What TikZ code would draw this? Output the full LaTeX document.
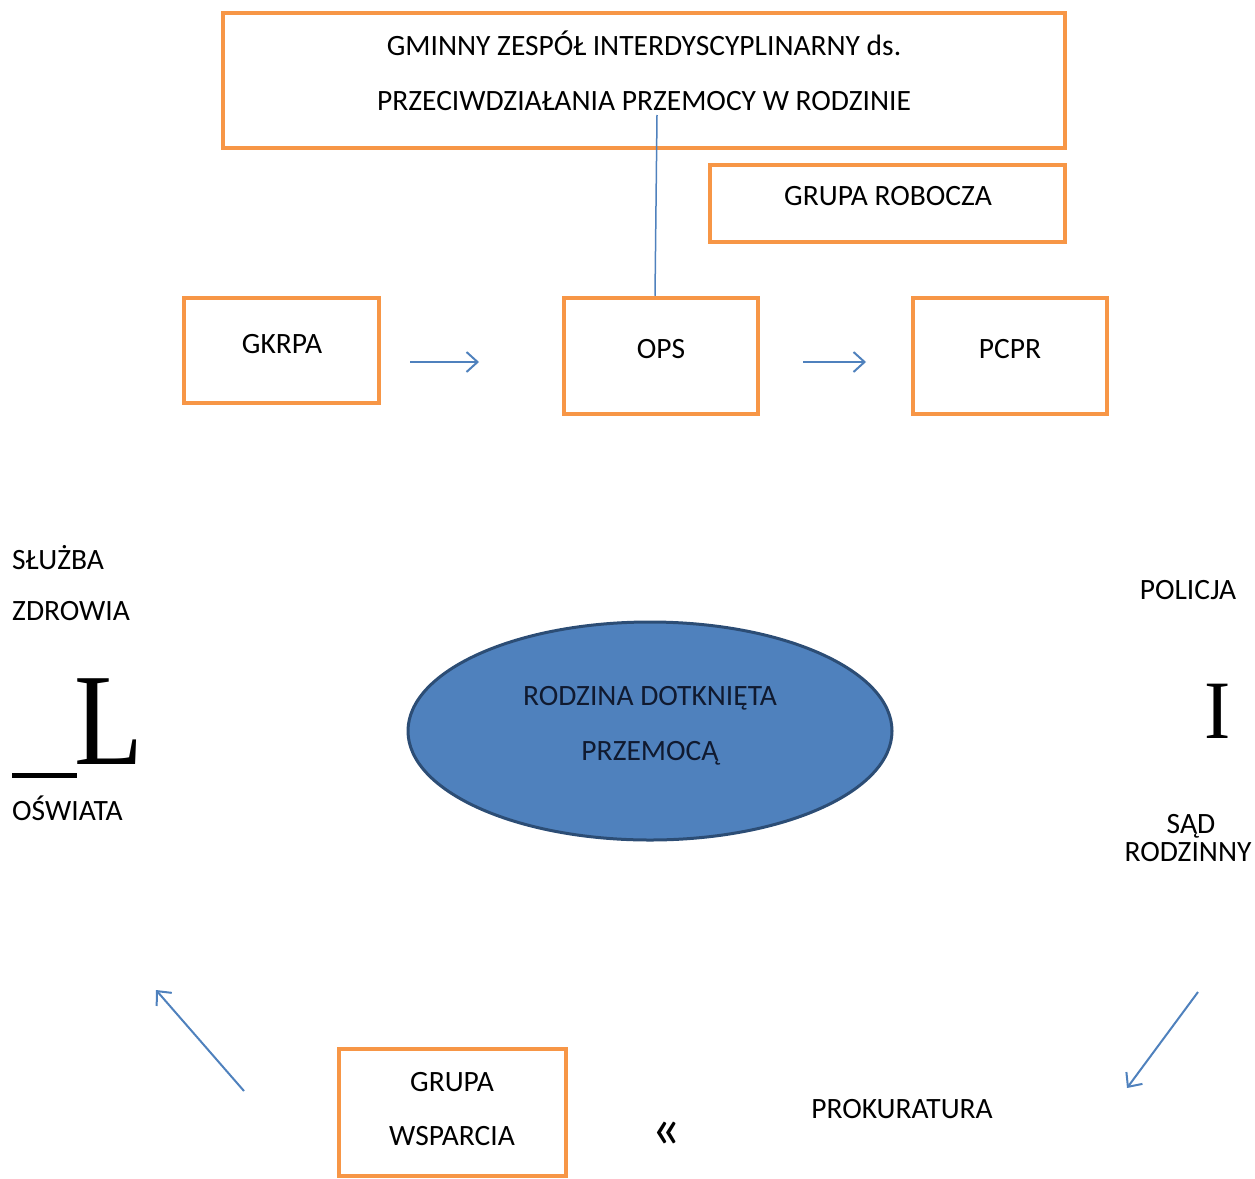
\documentclass[tikz,border=0pt]{standalone}
\usepackage{fontspec}
\setmainfont{Carlito}
\newfontfamily\bigserif{Liberation Serif}
\usetikzlibrary{arrows.meta,shapes.geometric,calc}
\definecolor{boxorange}{HTML}{F79646}
\definecolor{arrblue}{HTML}{4F81BD}
\definecolor{ellfill}{HTML}{4F81BD}
\definecolor{elldraw}{HTML}{2C4D75}
\definecolor{elltext}{HTML}{101A30}
\begin{document}
\begin{tikzpicture}[x=1pt,y=-1pt,
  box/.style={draw=boxorange, line width=4.5pt, inner sep=0pt, fill=white},
  lbl/.style={font=\fontsize{29.5}{29.5}\selectfont, inner sep=0pt, anchor=base},
  lblw/.style={lbl, anchor=base west},
  conn/.style={draw=arrblue, line width=1.5pt},
  arr/.style={draw=arrblue, line width=2pt, -{Straight Barb[length=11pt,width=20pt,line width=2pt]}}]
\useasboundingbox (0,0) rectangle (1255,1178);

% boxes
\node[box, minimum width=842pt, minimum height=135pt] (gzi) at (644,80.5) {};
\node[box, minimum width=355pt, minimum height=77pt] (robocza) at (887.5,203.5) {};
\node[box, minimum width=195pt, minimum height=105pt] (gkrpa) at (281.5,350.5) {};
\node[box, minimum width=194pt, minimum height=116pt] (ops) at (661,356) {};
\node[box, minimum width=194pt, minimum height=116pt] (pcpr) at (1010,356) {};
\node[box, minimum width=227pt, minimum height=127pt] (wsparcia) at (452.5,1112.5) {};

% box texts
\node[lbl] (gzi1) at (644,55) {GMINNY ZESPÓŁ INTERDYSCYPLINARNY ds.};
\node[lbl] (gzi2) at (644,110) {PRZECIWDZIAŁANIA PRZEMOCY W RODZINIE};
\node[lbl] (robt) at (888,205) {GRUPA ROBOCZA};
\node[lbl] (gkrpat) at (282,353) {GKRPA};
\node[lbl] (opst) at (661,358) {OPS};
\node[lbl] (pcprt) at (1010,358) {PCPR};
\node[lbl] (wsp1) at (452,1091) {GRUPA};
\node[lbl] (wsp2) at (452,1145) {WSPARCIA};

% vertical connector
\coordinate (linetop) at (657,115);
\draw[conn] (linetop) -- ($(ops.north)+(-6,0)$);

% ellipse
\node[ellipse, draw=elldraw, fill=ellfill, line width=3pt, minimum width=484pt, minimum height=218pt, inner sep=0pt] (rodzina) at (650,731) {};
\node[lbl, text=elltext] (rod1) at (650,705) {RODZINA DOTKNIĘTA};
\node[lbl, text=elltext] (rod2) at (650,760) {PRZEMOCĄ};

% side labels
\node[lblw] (sluzba) at (12,569) {SŁUŻBA};
\node[lblw] (zdrowia) at (12,620) {ZDROWIA};
\node[lblw] (oswiata) at (12,820) {OŚWIATA};
\node[lbl] (policja) at (1188,599) {POLICJA};
\node[lbl] (sad) at (1191,833) {SĄD};
\node[lbl] (rodzinny) at (1188,861) {RODZINNY};
\node[lbl] (prok) at (902,1118) {PROKURATURA};
\node[lbl, font=\fontsize{58}{58}\selectfont] (guil) at (666,1147) {«};

% big serif letters
\node[inner sep=0pt, anchor=base, font=\bigserif\fontsize{131}{131}\selectfont, xscale=0.86] (bigL) at (108.5,764) {L};
\node[inner sep=0pt, anchor=base, font=\bigserif\fontsize{83}{83}\selectfont, xscale=0.95] (bigI) at (1218,738) {I};
\fill[black] (12,773) rectangle (77,778);

% arrows
\coordinate (a1s) at (410,362); \coordinate (a1e) at (479,362);
\coordinate (a2s) at (803,362); \coordinate (a2e) at (866,362);
\coordinate (a3s) at (244,1091); \coordinate (a3e) at (156,990);
\coordinate (a4s) at (1198,992); \coordinate (a4e) at (1127,1088);
\draw[arr] (a1s) -- (a1e);
\draw[arr] (a2s) -- (a2e);
\draw[arr] (a3s) -- (a3e);
\draw[arr] (a4s) -- (a4e);
\end{tikzpicture}
\end{document}
